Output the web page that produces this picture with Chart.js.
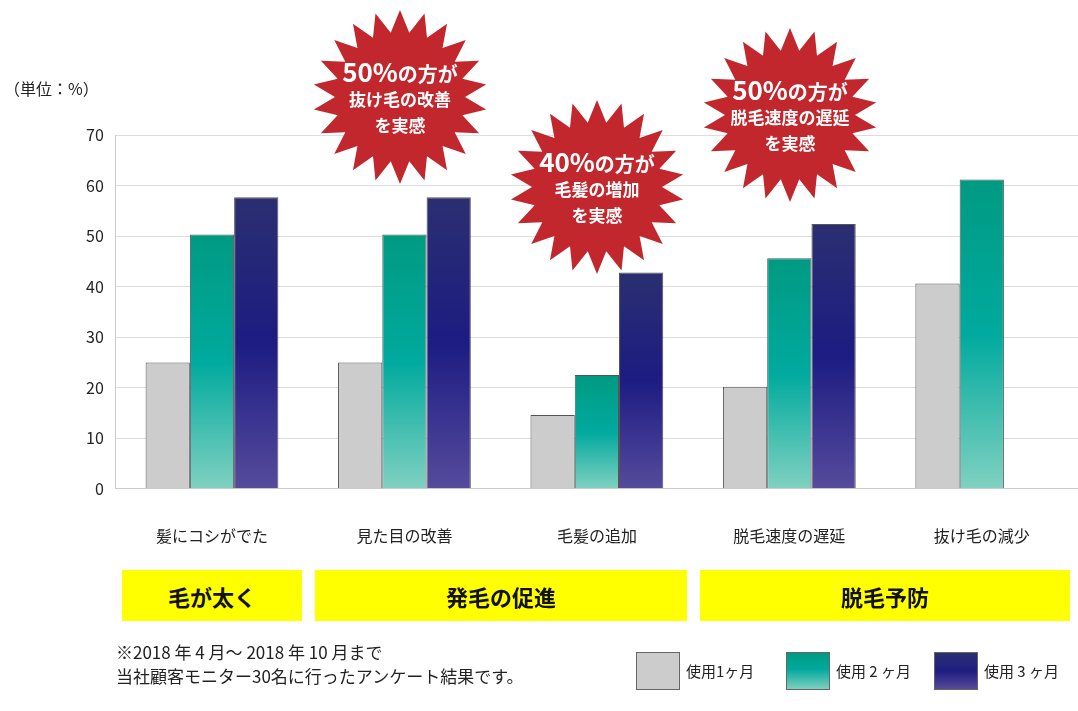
<!DOCTYPE html>
<html><head><meta charset="utf-8">
<script src="https://cdn.jsdelivr.net/npm/chart.js@4/dist/chart.umd.min.js"></script>
<style>
body{margin:0;background:#fff;font-family:"Noto Sans CJK JP","Noto Sans",sans-serif;}
#wrap{position:relative;width:1078px;height:711px;}
canvas{position:absolute;left:0;top:0;}
.t{position:absolute;color:#222;}
.yb{position:absolute;background:#ffff00;top:570px;height:51px;font-weight:bold;font-size:22px;display:flex;align-items:center;justify-content:center;color:#111;}
.lg{position:absolute;top:652px;width:44px;height:38px;border:1px solid #666;box-sizing:border-box;}
</style></head><body>
<div id="wrap">
<canvas id="c" width="1078" height="711"></canvas>
<div class="t" style="left:4px;top:76px;font-size:16px;">（単位：%）</div>
<div class="yb" style="left:122px;width:180px;">毛が太く</div>
<div class="yb" style="left:315px;width:372px;">発毛の促進</div>
<div class="yb" style="left:700px;width:370px;">脱毛予防</div>
<div class="t" style="left:116px;top:640px;font-size:17px;line-height:24px;">※2018 年 4 月～ 2018 年 10 月まで<br>当社顧客モニター30名に行ったアンケート結果です。</div>
<div class="lg" style="left:636px;background:#ccc;"></div>
<div class="t" style="left:686px;top:660px;font-size:15px;">使用1ヶ月</div>
<div class="lg" style="left:786px;background:linear-gradient(#009a82,#00a99d 45%,#7fd0c0);"></div>
<div class="t" style="left:836px;top:660px;font-size:15px;">使用 2 ヶ月</div>
<div class="lg" style="left:934px;background:linear-gradient(#2b2f70,#1e1e80 50%,#574a9a);"></div>
<div class="t" style="left:984px;top:660px;font-size:15px;">使用 3 ヶ月</div>
</div>
<script>
const categories=["髪にコシがでた","見た目の改善","毛髪の追加","脱毛速度の遅延","抜け毛の減少"];
const month1=[25,25,14.6,20.2,40.6];
const month2=[50.3,50.3,22.5,45.6,61.2];
const month3=[57.7,57.7,42.8,52.4,null];
const seriesNames=["使用1ヶ月","使用 2 ヶ月","使用 3 ヶ月"];
const bursts=[
 {x:400,y:97,lines:["50%の方が","抜け毛の改善","を実感"]},
 {x:597,y:187,lines:["40%の方が","毛髪の増加","を実感"]},
 {x:790,y:115,lines:["50%の方が","脱毛速度の遅延","を実感"]}
];
function barGrad(c,stops){
 const ch=c.chart, a=ch.chartArea; if(!a) return stops[0][1];
 const v=c.raw; if(v==null) return stops[0][1];
 const top=ch.scales.y.getPixelForValue(v), bot=ch.scales.y.getPixelForValue(0);
 const g=ch.ctx.createLinearGradient(0,top,0,bot);
 stops.forEach(s=>g.addColorStop(s[0],s[1]));return g;
}
const burstPlugin={id:'burst',afterDraw(ch){
 const ctx=ch.ctx;
 bursts.forEach(b=>{
  const n=22,ro=87,ri=65;
  ctx.beginPath();
  for(let i=0;i<2*n;i++){const r=i%2?ri:ro;const a=Math.PI*i/n-Math.PI/2;
   const px=b.x+r*Math.cos(a),py=b.y+r*Math.sin(a); i?ctx.lineTo(px,py):ctx.moveTo(px,py);}
  ctx.closePath();ctx.fillStyle='#c1272d';ctx.fill();
  ctx.fillStyle='#fff';ctx.textBaseline='middle';
  const f='"Noto Sans CJK JP",sans-serif';
  const num=b.lines[0].slice(0,3), rest=b.lines[0].slice(3);
  ctx.font='bold 26px '+f;const w1=ctx.measureText(num).width;
  ctx.font='bold 20px '+f;const w2=ctx.measureText(rest).width;
  let sx=b.x-(w1+w2)/2;ctx.textAlign='left';
  ctx.font='bold 26px '+f;ctx.fillText(num,sx,b.y-25);
  ctx.font='bold 20px '+f;ctx.fillText(rest,sx+w1,b.y-23);
  ctx.textAlign='center';ctx.font='bold 17px '+f;
  ctx.fillText(b.lines[1],b.x,b.y+3);ctx.fillText(b.lines[2],b.x,b.y+29);
 });
}};
new Chart(document.getElementById('c'),{
 type:'bar',
 data:{labels:categories,datasets:[
  {label:seriesNames[0],data:month1,backgroundColor:'#cccccc'},
  {label:seriesNames[1],data:month2,backgroundColor:c=>barGrad(c,[[0,'#009a82'],[0.5,'#00aa9e'],[1,'#80d1c1']])},
  {label:seriesNames[2],data:month3,backgroundColor:c=>barGrad(c,[[0,'#2b2f70'],[0.5,'#1c1c82'],[1,'#564b9c']])}
 ].map(d=>Object.assign(d,{borderColor:'#555',borderWidth:1,categoryPercentage:0.69,barPercentage:1}))},
 options:{responsive:false,animation:false,
  layout:{padding:{left:74,top:135,right:0,bottom:135}},
  plugins:{legend:{display:false},tooltip:{enabled:false}},
  scales:{
   x:{grid:{display:false},border:{color:'#ccc'},ticks:{color:'#222',padding:30,font:{size:16,family:'"Noto Sans CJK JP"'}}},
   y:{min:0,max:70,ticks:{stepSize:10,color:'#222',padding:12,font:{size:16,family:'"Noto Sans CJK JP"'}},grid:{color:'#ddd',drawTicks:false},border:{color:'#ccc'}}
  }},
 plugins:[burstPlugin]
});
</script></body></html>
